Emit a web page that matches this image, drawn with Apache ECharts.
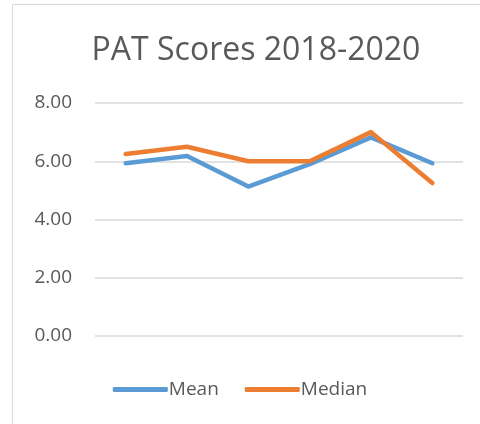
<!DOCTYPE html>
<html>
<head>
    <meta charset="utf-8">
    <title>PAT Scores</title>
    <script src="https://cdn.jsdelivr.net/npm/echarts@6/dist/echarts.min.js"></script>
    <style>
        html, body { margin: 0; padding: 0; background: #fff; }
    </style>
</head>
<body>
<div id="chart" style="width: 480px;height:424px;"></div>

<script>
    // data
    var categories = ['1', '2', '3', '4', '5', '6'];
    var meanValues = [5.93, 6.18, 5.13, 5.9, 6.82, 5.93];
    var medianValues = [6.25, 6.5, 6.0, 6.0, 7.0, 5.25];
    var yTicks = [0, 2, 4, 6, 8];

    var font = '"Open Sans", "Noto Sans", sans-serif';

    var option = {
        backgroundColor: '#fff',
        animation: false,
        color: ['#5B9BD5', '#ED7D31'],
        graphic: [{
            type: 'rect',
            shape: { x: 12.5, y: 4.5, width: 600, height: 600 },
            style: { fill: 'none', stroke: '#d9d9d9', lineWidth: 1 },
            silent: true
        }],
        title: {
            text: 'PAT Scores 2018-2020',
            left: 251,
            textAlign: 'center',
            top: 30,
            textStyle: {
                color: '#595959',
                fontFamily: font,
                fontWeight: 'normal',
                fontSize: 32
            }
        },
        legend: {
            bottom: 20,
            left: 'center',
            itemWidth: 55,
            itemHeight: 5,
            itemGap: 26,
            icon: 'roundRect',
            textStyle: { color: '#595959', fontFamily: font, fontSize: 19, padding: [0, 0, 0, -4] },
            data: ['Mean', 'Median']
        },
        grid: {
            left: 95,
            right: 17,
            top: 103,
            bottom: 88,
            containLabel: false
        },
        xAxis: {
            type: 'category',
            data: categories,
            boundaryGap: true,
            axisLine: { show: false },
            axisTick: { show: false },
            axisLabel: { show: false }
        },
        yAxis: {
            type: 'value',
            min: yTicks[0],
            max: yTicks[yTicks.length - 1],
            interval: 2,
            axisLine: { show: false },
            axisTick: { show: false },
            axisLabel: {
                color: '#595959',
                fontFamily: font,
                fontSize: 19,
                margin: 23,
                formatter: function (v) { return v.toFixed(2); }
            },
            splitLine: { lineStyle: { color: '#d9d9d9', width: 1.5 } }
        },
        series: [{
            name: 'Mean',
            type: 'line',
            data: meanValues,
            symbol: 'none',
            lineStyle: { width: 4.5, cap: 'round', join: 'round' }
        }, {
            name: 'Median',
            type: 'line',
            data: medianValues,
            symbol: 'none',
            lineStyle: { width: 4.5, cap: 'round', join: 'round' }
        }]
    };

    echarts.init(document.getElementById('chart')).setOption(option);
</script>
</body>
</html>
